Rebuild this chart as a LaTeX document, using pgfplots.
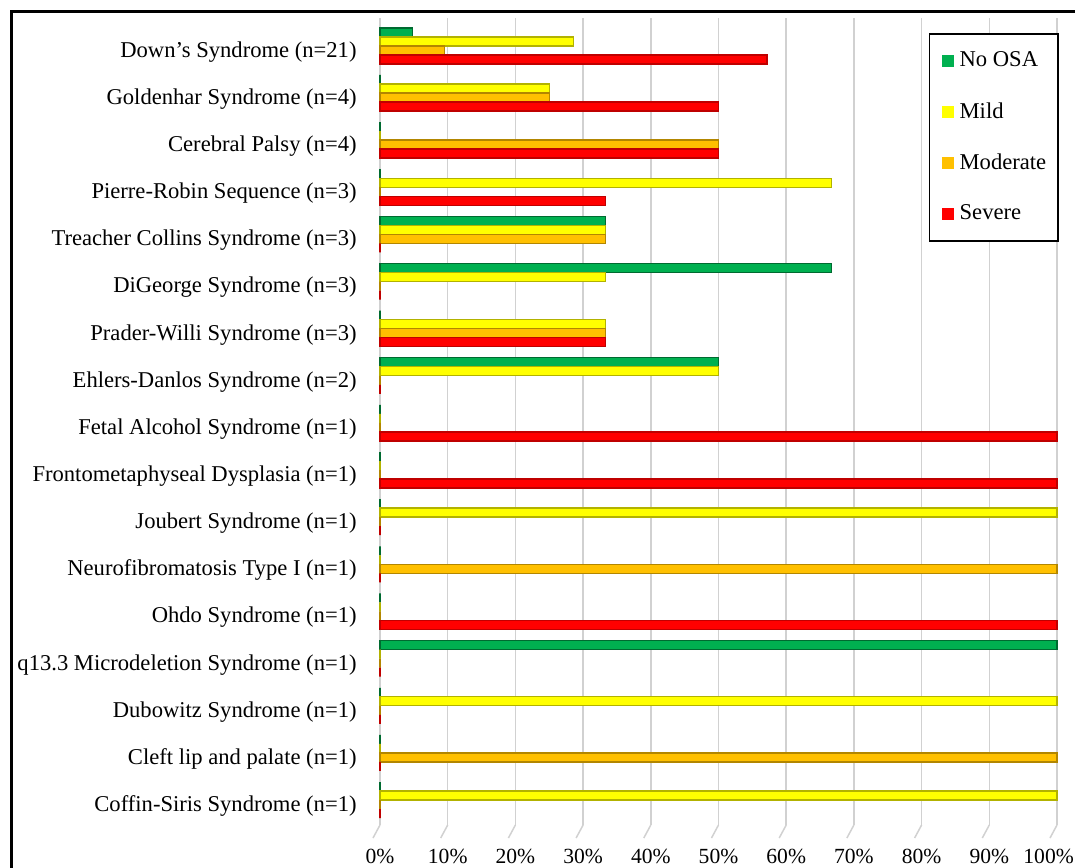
\documentclass[border=0pt]{standalone}
\usepackage{fontspec}
\setmainfont{Liberation Serif}
\usepackage{pgfplots}
\usepackage{pgfplotstable}
\pgfplotsset{compat=1.18}
\definecolor{cG}{HTML}{00B050}
\definecolor{cY}{HTML}{FFFF00}
\definecolor{cO}{HTML}{FFC000}
\definecolor{cR}{HTML}{FF0000}
\pgfplotstableread{
y noosa mild moderate severe
16 4.76 28.57 9.52 57.14
15 0 25 25 50
14 0 0 50 50
13 0 66.67 0 33.33
12 33.33 33.33 33.33 0
11 66.67 33.33 0 0
10 0 33.33 33.33 33.33
9 50 50 0 0
8 0 0 0 100
7 0 0 0 100
6 0 100 0 0
5 0 0 100 0
4 0 0 0 100
3 100 0 0 0
2 0 100 0 0
1 0 0 100 0
0 0 100 0 0
}\datatable
\begin{document}
\begin{tikzpicture}
\begin{axis}[
  at={(190pt,-412.5pt)}, anchor=south west,
  scale only axis, width=338.5pt, height=403.5pt,
  xmin=0, xmax=100, ymin=-0.53, ymax=16.59,
  xbar, bar width=4.5pt, clip=false,
  xtick={0,10,20,30,40,50,60,70,80,90,100},
  xticklabels={0\%,10\%,20\%,30\%,40\%,50\%,60\%,70\%,80\%,90\%,\makebox[0pt][l]{\hspace{-16.8pt}100\%}},
  ytick={0,1,2,3,4,5,6,7,8,9,10,11,12,13,14,15,16},
  yticklabels={Coffin-Siris Syndrome (n=1),Cleft lip and palate (n=1),Dubowitz Syndrome (n=1),q13.3 Microdeletion Syndrome (n=1),Ohdo Syndrome (n=1),Neurofibromatosis Type I (n=1),Joubert Syndrome (n=1),Frontometaphyseal Dysplasia (n=1),Fetal Alcohol Syndrome (n=1),Ehlers-Danlos Syndrome (n=2),Prader-Willi Syndrome (n=3),DiGeorge Syndrome (n=3),Treacher Collins Syndrome (n=3),Pierre-Robin Sequence (n=3),Cerebral Palsy (n=4),Goldenhar Syndrome (n=4),Down’s Syndrome (n=21)},
  axis line style={draw=none}, major tick length=0pt,
  xmajorgrids, grid style={black!18, line width=0.75pt},
  yticklabel style={font=\fontsize{11.3}{13}\selectfont, anchor=east, inner sep=0pt, xshift=-11.5pt, yshift=-3pt},
  xticklabel style={font=\fontsize{10.8}{13}\selectfont, anchor=center, inner sep=0pt, yshift=-15.5pt},
  legend style={at={(1.003,0.9815)}, anchor=north east, draw=black, line width=0.8pt,
    inner xsep=6pt, inner ysep=0.75pt, font=\fontsize{11.3}{13}\selectfont,
    cells={anchor=west}, nodes={minimum height=25.5pt, inner sep=0pt}, column sep=3pt},
  legend image code/.code={\fill[#1,draw=none] (0pt,-3pt) rectangle (6pt,3pt);},
]
\addplot[fill=cG, draw=cG!60!black, line width=0.7pt, bar shift=6.75pt] table[x=noosa,y=y]{\datatable};
\addlegendentry{No OSA}
\addplot[fill=cY, draw=cY!70!black, line width=0.7pt, bar shift=2.25pt] table[x=mild,y=y]{\datatable};
\addlegendentry{Mild}
\addplot[fill=cO, draw=cO!70!black, line width=0.7pt, bar shift=-2.25pt] table[x=moderate,y=y]{\datatable};
\addlegendentry{Moderate}
\addplot[fill=cR, draw=cR!75!black, line width=0.7pt, bar shift=-6.75pt] table[x=severe,y=y]{\datatable};
\addlegendentry{Severe}
\pgfplotsinvokeforeach{0,10,20,30,40,50,60,70,80,90,100}{
  \draw[black!18, line width=0.75pt] (axis cs:#1,-0.53) -- ++(-3.5pt,-6.5pt);
}
\end{axis}
\draw[line width=1.3pt] (5.75pt,-445pt) -- (5.75pt,-5.75pt) -- (545pt,-5.75pt);
\pgfresetboundingbox
\useasboundingbox (0,0) rectangle (537.5pt,-433.5pt);
\end{tikzpicture}
\end{document}
